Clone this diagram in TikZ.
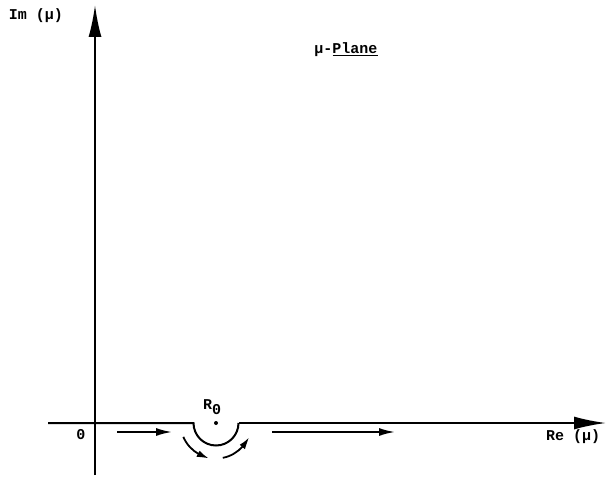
\documentclass[tikz,border=0pt]{standalone}
\usepackage{fontspec}
\setmainfont{Liberation Mono}
\usetikzlibrary{arrows.meta,bending}
\begin{document}
\begin{tikzpicture}[x=1pt,y=-1pt,
  axis/.style={line width=2pt,-{Latex[length=32pt,width=13pt]}},
  contour/.style={line width=2pt},
  flow/.style={line width=1.8pt,-{Latex[length=16pt,width=8pt]}},
  cflow/.style={line width=1.8pt,-{Latex[length=12pt,width=7pt,bend]}},
  lbl/.style={inner sep=0pt,font=\fontsize{15}{17}\selectfont\bfseries}]
\useasboundingbox (0,0) rectangle (610,478);
% axes
\coordinate (vb) at (95,475);
\coordinate (vt) at (95,5);
\coordinate (hl) at (48,423);
\coordinate (hr) at (606,423);
\draw[axis] (vb) -- (vt);
% real axis with indentation
\coordinate (c) at (216,423);
\coordinate (il) at (193.5,423);
\coordinate (ir) at (238.5,423);
\draw[contour] (hl) -- (il) arc[start angle=180,end angle=0,radius=22.5];
\draw[axis] (ir) -- (hr);
\fill (c) circle[radius=2pt];
% flow arrows
\coordinate (a1s) at (117,432);
\coordinate (a1e) at (172,432);
\draw[flow] (a1s) -- (a1e);
\coordinate (a2s) at (272,432);
\coordinate (a2e) at (395,432);
\draw[flow] (a2s) -- (a2e);
\draw[cflow] (c) ++(157:35.5) arc[start angle=157,end angle=101,radius=35.5];
\draw[cflow] (c) ++(79:35.5) arc[start angle=79,end angle=23,radius=35.5];
% labels
\node[lbl] (im) at (36,16) {Im (μ)};
\node[lbl] (pl) at (346,50) {μ-\underline{Plane}};
\node[lbl] (re) at (573,437) {Re (μ)};
\node[lbl] (r0) at (212,407) {R\raisebox{-0.6ex}{0}};
\node[lbl] (o) at (81,435) {0};
\end{tikzpicture}
\end{document}
